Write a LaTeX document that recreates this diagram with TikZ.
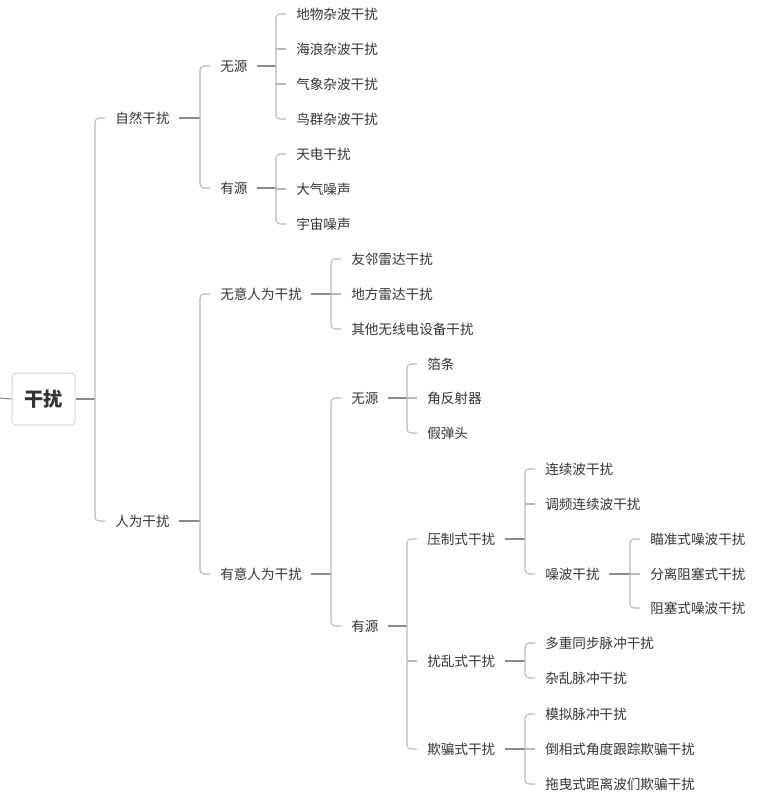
\documentclass[tikz,border=0pt]{standalone}
\usepackage{fontspec}
\setmainfont{Noto Sans CJK SC}
\usetikzlibrary{calc}
\definecolor{txt}{HTML}{333333}
\definecolor{pline}{HTML}{8A8A8A}
\definecolor{bline}{HTML}{B8B8B8}
\definecolor{rootborder}{HTML}{D4D4D4}
\tikzset{
  lbl/.style={anchor=west,inner sep=0pt,text=txt,font=\fontsize{10.2pt}{12pt}\selectfont},
  rootbox/.style={draw=rootborder,rounded corners=3pt,fill=white,line width=0.75pt,
    minimum width=63*0.75pt,minimum height=52*0.75pt,inner sep=0pt,
    text=txt,font=\fontsize{14.5pt}{16pt}\selectfont\bfseries},
  pconn/.style={draw=pline,line width=0.8pt},
  bconn/.style={draw=bline,line width=0.8pt,rounded corners=3pt},
}
% parent line: from parent east (+gap) to bracket x (child west - 20)
\newcommand{\pline}[2]{\draw[pconn] ($(#1.east)+(9,0)$) -- ($(#2.west |- #1.east)+(-20,0)$);}
% outer bracket from first child to last child
\newcommand{\bracketfl}[2]{\draw[bconn] ($(#1.west)+(-10,0)$) -| ($(#2.west)+(-20,0)$) -- ($(#2.west)+(-10,0)$);}
% middle child tick
\newcommand{\mtick}[1]{\draw[bconn] ($(#1.west)+(-20,0)$) -- ($(#1.west)+(-10,0)$);}
\begin{document}
\begin{tikzpicture}[x=0.75pt,y=-0.75pt]
\useasboundingbox (0,0) rectangle (758,800);
% root
\node[rootbox] (root) at (43.5,399) {干扰};
\coordinate (stub) at (0,398);
% level 1
\node[lbl] (zr) at (115,118) {自然干扰};
\node[lbl] (rw) at (115,521) {人为干扰};
% level 2 natural
\node[lbl] (zrwy) at (220,66) {无源};
\node[lbl] (zryy) at (220,188) {有源};
\node[lbl] (a1) at (296,14) {地物杂波干扰};
\node[lbl] (a2) at (296,49) {海浪杂波干扰};
\node[lbl] (a3) at (296,84) {气象杂波干扰};
\node[lbl] (a4) at (296,119) {鸟群杂波干扰};
\node[lbl] (b1) at (296,154) {天电干扰};
\node[lbl] (b2) at (296,189) {大气噪声};
\node[lbl] (b3) at (296,224) {宇宙噪声};
% level 2 man-made
\node[lbl] (wy) at (220,294) {无意人为干扰};
\node[lbl] (yy) at (220,574) {有意人为干扰};
\node[lbl] (c1) at (351,259) {友邻雷达干扰};
\node[lbl] (c2) at (351,294) {地方雷达干扰};
\node[lbl] (c3) at (351,329) {其他无线电设备干扰};
\node[lbl] (yywy) at (351,398) {无源};
\node[lbl] (yyyy) at (351,626) {有源};
\node[lbl] (d1) at (427,364) {箔条};
\node[lbl] (d2) at (427,398) {角反射器};
\node[lbl] (d3) at (427,433) {假弹头};
\node[lbl] (yz) at (427,539) {压制式干扰};
\node[lbl] (rl) at (427,661) {扰乱式干扰};
\node[lbl] (qp) at (427,749) {欺骗式干扰};
\node[lbl] (e1) at (545,469) {连续波干扰};
\node[lbl] (e2) at (545,504) {调频连续波干扰};
\node[lbl] (zb) at (545,574) {噪波干扰};
\node[lbl] (f1) at (650,539) {瞄准式噪波干扰};
\node[lbl] (f2) at (650,574) {分离阻塞式干扰};
\node[lbl] (f3) at (650,608) {阻塞式噪波干扰};
\node[lbl] (g1) at (545,643) {多重同步脉冲干扰};
\node[lbl] (g2) at (545,678) {杂乱脉冲干扰};
\node[lbl] (h1) at (545,714) {模拟脉冲干扰};
\node[lbl] (h2) at (545,749) {倒相式角度跟踪欺骗干扰};
\node[lbl] (h3) at (545,784) {拖曳式距离波们欺骗干扰};
% connectors
\draw[pconn] (stub) -- (root.west);
\draw[pconn] (root.east) -- ($(zr.west |- root.east)+(-20,0)$);
\bracketfl{zr}{rw}
% natural
\pline{zr}{zrwy}
\bracketfl{zrwy}{zryy}
\pline{zrwy}{a1}
\bracketfl{a1}{a4}
\mtick{a2}\mtick{a3}
\pline{zryy}{b1}
\bracketfl{b1}{b3}
\mtick{b2}
% man-made
\pline{rw}{wy}
\bracketfl{wy}{yy}
\pline{wy}{c1}
\bracketfl{c1}{c3}
\mtick{c2}
\pline{yy}{yywy}
\bracketfl{yywy}{yyyy}
\pline{yywy}{d1}
\bracketfl{d1}{d3}
\mtick{d2}
\pline{yyyy}{yz}
\bracketfl{yz}{qp}
\mtick{rl}
\pline{yz}{e1}
\bracketfl{e1}{zb}
\mtick{e2}
\pline{zb}{f1}
\bracketfl{f1}{f3}
\mtick{f2}
\pline{rl}{g1}
\bracketfl{g1}{g2}
\pline{qp}{h1}
\bracketfl{h1}{h3}
\mtick{h2}
\end{tikzpicture}
\end{document}
